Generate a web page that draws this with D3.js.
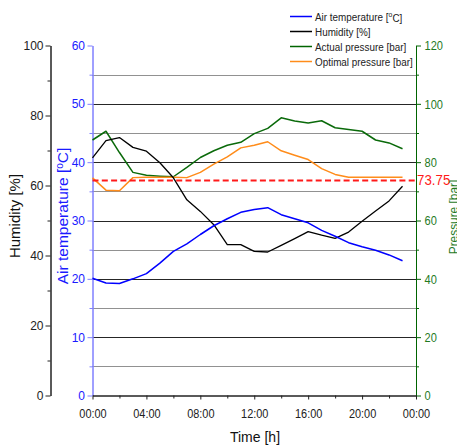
<!DOCTYPE html>
<html><head><meta charset="utf-8">
<script src="https://cdn.jsdelivr.net/npm/d3@7"></script>
<style>body{margin:0;background:#fff}svg{display:block;font-family:"Liberation Sans",Arial,sans-serif}</style>
</head><body>
<svg id="c" width="457" height="446"></svg>
<script>
const hours = [0,1,2,3,4,5,6,7,8,9,10,11,12,13,14,15,16,17,18,19,20,21,22,23];
const airTemp = [20.1,19.3,19.2,20.0,20.9,22.7,24.7,26.0,27.6,29.1,30.3,31.4,31.9,32.2,31.0,30.3,29.6,28.3,27.3,26.2,25.5,24.9,24.1,23.1];
const humidity = [67.9,72.8,73.7,70.9,69.8,66.5,62.2,55.9,52.6,48.8,43.1,43.1,41.2,41.0,42.9,44.8,46.8,45.8,44.9,46.7,49.8,52.7,55.6,59.8];
const actualPressure = [87.6,90.6,83.3,76.5,75.5,75.2,75.0,78.2,81.6,83.9,85.8,86.8,89.8,91.6,95.2,94.1,93.4,94.2,91.8,91.2,90.6,87.6,86.6,84.6];
const optimalPressure = [74.6,70.4,70.2,74.7,74.8,74.8,74.8,74.7,76.5,79.3,81.8,84.9,85.8,87.0,83.9,82.4,80.9,77.8,75.8,74.8,74.8,74.8,74.8,74.8];
const threshold = 73.75;
const xTickValues = [0,4,8,12,16,20,24];
const xTickLabels = ["00:00","04:00","08:00","12:00","16:00","20:00","00:00"];
const humTicks = [0,20,40,60,80,100];
const tempTicks = [0,10,20,30,40,50,60];
const presTicks = [0,20,40,60,80,100,120];
const legendItems = [
  {name:"Air temperature [", sup:"o", tail:"C]", color:"#0000ff"},
  {name:"Humidity [%]", color:"#000000"},
  {name:"Actual pressure [bar]", color:"#006400"},
  {name:"Optimal pressure [bar]", color:"#ff8c1a"}
];

const svg = d3.select("#c");
const L = 92.5, R = 416, T = 45.5, B = 395.5;
const x = d3.scaleLinear().domain([0,24]).range([L,R]);
const yT = d3.scaleLinear().domain([0,60]).range([B,T]);
const yH = d3.scaleLinear().domain([0,100]).range([B,T]);
const yP = d3.scaleLinear().domain([0,120]).range([B,T]);

// grid
const g = svg.append("g");
d3.range(10,60,10).forEach(v=>{
  g.append("line").attr("x1",L).attr("x2",R).attr("y1",Math.round(yT(v))+0.5).attr("y2",Math.round(yT(v))+0.5)
   .attr("stroke","#262626").attr("stroke-width",1);
});
d3.range(5,60,10).forEach(v=>{
  g.append("line").attr("x1",L).attr("x2",R).attr("y1",Math.round(yT(v))+0.5).attr("y2",Math.round(yT(v))+0.5)
   .attr("stroke","#222").attr("stroke-width",1).attr("stroke-dasharray","1,1");
});

function condense(sel, f){ sel.each(function(){ const n=this.getComputedTextLength(); d3.select(this).attr("textLength",n*f).attr("lengthAdjust","spacingAndGlyphs"); }); }

function styleAxis(ax, color, lineColor){
  ax.select(".domain").attr("stroke", lineColor||color);
  ax.selectAll(".tick line").attr("stroke", lineColor||color);
  ax.selectAll("text").attr("fill", color);
}

// humidity axis
const hx = 50.5;
const hMinor = svg.append("g").attr("transform",`translate(${hx},0)`).call(d3.axisLeft(yH).tickValues([10,30,50,70,90]).tickFormat("").tickSize(3).tickSizeOuter(0));
const hAx = svg.append("g").attr("transform",`translate(${hx},0)`).call(d3.axisLeft(yH).tickValues(humTicks).tickSize(5).tickPadding(2).tickSizeOuter(0));
hAx.selectAll("text").attr("font-size",12).attr("font-family","Liberation Sans");
styleAxis(hMinor,"#222"); styleAxis(hAx,"#222");

// temperature axis
const tMinor = svg.append("g").attr("transform",`translate(${L},0)`).call(d3.axisLeft(yT).tickValues([5,15,25,35,45,55]).tickFormat("").tickSize(3).tickSizeOuter(0));
const tAx = svg.append("g").attr("transform",`translate(${L},0)`).call(d3.axisLeft(yT).tickValues(tempTicks).tickSize(5).tickPadding(2.5).tickSizeOuter(0));
tAx.selectAll("text").attr("font-size",12).attr("font-family","Liberation Sans");
styleAxis(tMinor,"#1a1aff","#8080ff"); styleAxis(tAx,"#1a1aff","#8080ff");

// pressure axis
const pMinor = svg.append("g").attr("transform",`translate(${R},0)`).call(d3.axisRight(yP).tickValues([10,30,50,70,90,110]).tickFormat("").tickSize(3).tickSizeOuter(0));
const pAx = svg.append("g").attr("transform",`translate(${R},0)`).call(d3.axisRight(yP).tickValues(presTicks).tickSize(5).tickPadding(3.5).tickSizeOuter(0));
pAx.selectAll("text").attr("font-size",13).attr("font-family","Liberation Sans");
styleAxis(pMinor,"#1f7a1f","#006400"); styleAxis(pAx,"#1f7a1f","#006400");
condense(pAx.selectAll("text"),0.85);

// x axis
const xMinor = svg.append("g").attr("transform",`translate(0,${B})`).call(d3.axisBottom(x).tickValues([2,6,10,14,18,22]).tickFormat("").tickSize(3).tickSizeOuter(0));
const xAx = svg.append("g").attr("transform",`translate(0,${B})`).call(d3.axisBottom(x).tickValues(xTickValues).tickFormat((d,i)=>xTickLabels[i]).tickSize(4).tickPadding(9).tickSizeOuter(0));
xAx.selectAll("text").attr("font-size",13.5).attr("font-family","Liberation Sans");
styleAxis(xMinor,"#222"); styleAxis(xAx,"#222");
condense(xAx.selectAll("text"),0.81);

// lines
function drawLine(vals, yScale, color, w){
  svg.append("path").datum(hours.map((h,i)=>[h,vals[i]]))
   .attr("fill","none").attr("stroke",color).attr("stroke-width",w).attr("stroke-linejoin","round")
   .attr("d", d3.line().x(d=>x(d[0])).y(d=>yScale(d[1])));
}
drawLine(actualPressure, yP, "#0a6a0a", 1.5);
drawLine(optimalPressure, yP, "#ff8c1a", 1.5);
drawLine(humidity, yH, "#000000", 1.3);
drawLine(airTemp, yT, "#0000ff", 1.5);

// threshold
svg.append("line").attr("x1",x(0)).attr("x2",x(24)).attr("y1",yP(threshold)).attr("y2",yP(threshold))
  .attr("stroke","#ff1a1a").attr("stroke-width",2).attr("stroke-dasharray","6,3.3");
const thr = svg.append("text").attr("x",R+1).attr("y",yP(threshold)).attr("dy","0.36em")
  .attr("font-size",14).attr("fill","#ff1a1a").text(threshold.toFixed(2));
condense(thr,0.95);

// axis titles
svg.append("text").attr("transform","translate(20,216) rotate(-90)").attr("text-anchor","middle")
  .attr("font-size",15).attr("fill","#111").text("Humidity [%]");
const tt = svg.append("text").attr("transform","translate(67.5,216) rotate(-90)").attr("text-anchor","middle")
  .attr("font-size",15.5).attr("fill","#1a1aff");
tt.append("tspan").text("Air temperature [");
tt.append("tspan").attr("font-size",10).attr("dy",-5).text("o");
tt.append("tspan").attr("dy",5).text("C]");
svg.append("text").attr("transform","translate(457.5,217) rotate(-90) scale(0.88,1)").attr("text-anchor","middle")
  .attr("font-size",13.5).attr("fill","#1f7a1f").text("Pressure [bar]");
svg.append("text").attr("x",255).attr("y",442).attr("text-anchor","middle")
  .attr("font-size",14).attr("fill","#111").text("Time [h]");

// legend
const lg = svg.append("g");
legendItems.forEach((it,i)=>{
  const yy = 16.5 + i*15;
  lg.append("line").attr("x1",290).attr("x2",312).attr("y1",yy).attr("y2",yy).attr("stroke",it.color).attr("stroke-width",1.5);
  const t = lg.append("text").attr("transform",`translate(315,${yy}) scale(0.86,1)`).attr("dy","0.36em").attr("font-size",11.5).attr("fill","#222");
  if(it.sup){
    t.append("tspan").text(it.name);
    t.append("tspan").attr("font-size",8).attr("dy","-0.5em").text(it.sup);
    t.append("tspan").attr("dy","0.5em").text(it.tail);
  } else {
    t.text(it.name);
  }
});
</script>
</body></html>
